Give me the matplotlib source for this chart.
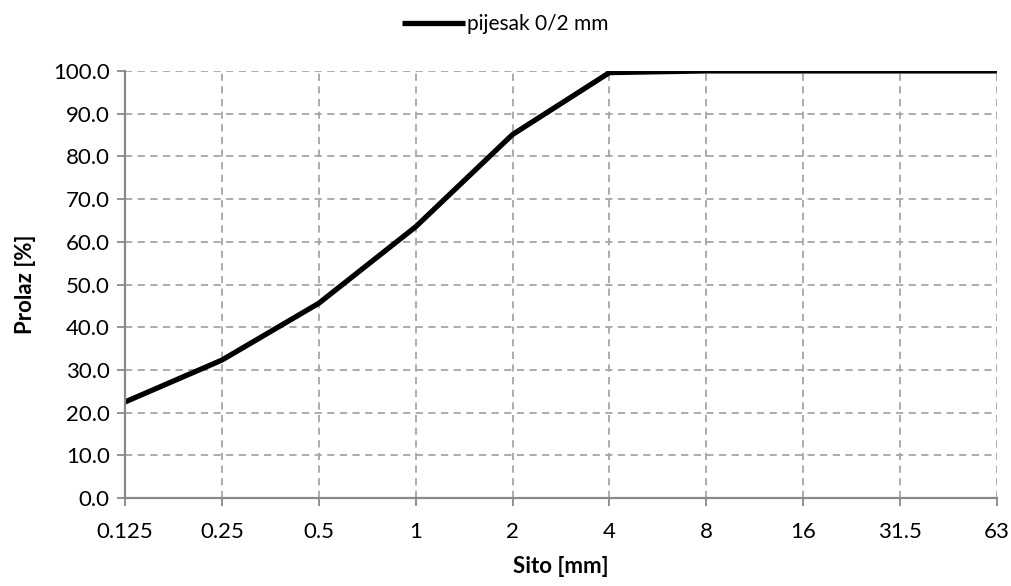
import matplotlib
matplotlib.use('Agg')
import matplotlib.pyplot as plt

plt.rcParams['font.family'] = ['Lato', 'DejaVu Sans']

# Sieve sizes (categorical axis) and passing percentage
sieve_labels = ['0.125', '0.25', '0.5', '1', '2', '4', '8', '16', '31.5', '63']
passing = [22.5, 32.3, 45.6, 63.5, 85.1, 99.6, 100.0, 100.0, 100.0, 100.0]
y_ticks = [0, 10, 20, 30, 40, 50, 60, 70, 80, 90, 100]

grid_col = '#a6a6a6'
axis_col = '#898989'

fig = plt.figure(figsize=(10.11, 5.86), dpi=100)
ax = fig.add_axes([0.1236, 0.150, 0.8625, 0.729])

x = list(range(len(sieve_labels)))
ax.plot(x, passing, color='black', lw=3.8, label='pijesak 0/2 mm', solid_capstyle='butt')

ax.set_xlim(0, len(sieve_labels) - 1)
ax.set_ylim(0, 100)
ax.set_xticks(x)
ax.set_xticklabels(sieve_labels)
ax.set_yticks(y_ticks)
ax.set_yticklabels([f'{v:.1f}' for v in y_ticks])

ax.grid(True, color=grid_col, ls=(0, (4, 3)), lw=1.3)
for s in ['top', 'right']:
    ax.spines[s].set_visible(False)
for s in ['left', 'bottom']:
    ax.spines[s].set_color(axis_col)
    ax.spines[s].set_linewidth(1.6)
ax.tick_params(axis='both', colors=axis_col, labelcolor='black', labelsize=16,
               length=6, width=1.3, direction='out')
ax.tick_params(axis='x', pad=11)
ax.tick_params(axis='y', pad=5)

ax.set_xlabel('Sito [mm]', fontsize=16, fontweight='bold', labelpad=10)
ax.set_ylabel('Prolaz [%]', fontsize=16, fontweight='bold', labelpad=12)

fig.legend(loc='upper center', bbox_to_anchor=(0.5, 1.008), frameon=False,
           fontsize=15, handlelength=3.0, handletextpad=0.1)

plt.savefig('out.png', dpi=100)
